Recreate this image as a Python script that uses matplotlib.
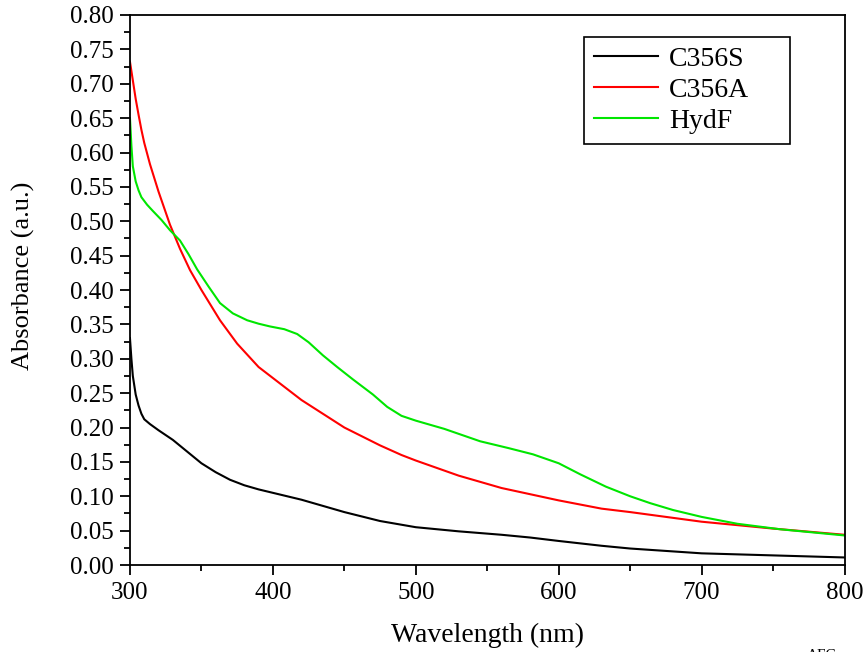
import numpy as np
import matplotlib.pyplot as plt
from matplotlib.ticker import MultipleLocator

plt.rcParams['font.family'] = ['Liberation Serif', 'DejaVu Serif']

# 数据
wl_s = [300, 301, 302, 304, 306, 308, 310, 314, 320, 330, 340, 350, 360, 370, 380,
        390, 400, 420, 450, 475, 500, 530, 560, 580, 600, 630, 650, 700, 750, 800]
c356s = [0.330, 0.300, 0.275, 0.248, 0.232, 0.220, 0.212, 0.205, 0.196, 0.182, 0.165,
         0.148, 0.135, 0.124, 0.116, 0.110, 0.105, 0.095, 0.077, 0.064, 0.055, 0.049,
         0.044, 0.040, 0.035, 0.028, 0.024, 0.017, 0.014, 0.011]

wl_a = [300, 302, 304, 306, 308, 310, 314, 320, 328, 335, 342, 350, 363, 375, 390, 400,
        420, 450, 475, 490, 500, 530, 560, 600, 630, 650, 700, 750, 800]
c356a = [0.732, 0.705, 0.678, 0.655, 0.633, 0.614, 0.583, 0.543, 0.495, 0.460, 0.429,
         0.400, 0.356, 0.322, 0.288, 0.272, 0.240, 0.200, 0.174, 0.160, 0.152, 0.130,
         0.112, 0.094, 0.082, 0.077, 0.063, 0.053, 0.044]

wl_h = [300, 301, 302, 304, 306, 308, 312, 316, 322, 328, 335, 341, 347, 355, 363, 372,
        382, 390, 398, 408, 417, 425, 435, 445, 456, 470, 480, 490, 500, 520, 545, 565,
        582, 600, 615, 633, 650, 664, 680, 700, 725, 755, 780, 800]
hydf = [0.650, 0.610, 0.580, 0.558, 0.545, 0.535, 0.524, 0.515, 0.502, 0.487, 0.472,
        0.452, 0.430, 0.405, 0.381, 0.366, 0.356, 0.351, 0.347, 0.343, 0.336, 0.324,
        0.305, 0.288, 0.270, 0.248, 0.230, 0.217, 0.210, 0.198, 0.180, 0.170, 0.161,
        0.148, 0.132, 0.114, 0.100, 0.090, 0.080, 0.070, 0.060, 0.052, 0.047, 0.043]

fig = plt.figure(figsize=(8.63, 6.52), dpi=100)
ax = fig.add_axes([0.1506, 0.1334, 0.8280, 0.8436])

ax.plot(wl_s, c356s, color='black', lw=1.5, label='C356S')
ax.plot(wl_a, c356a, color='#ff0000', lw=1.5, label='C356A')
ax.plot(wl_h, hydf, color='#00e600', lw=1.5, label='HydF')

ax.set_xlim(300, 800)
ax.set_ylim(0, 0.80)
ax.xaxis.set_major_locator(MultipleLocator(100))
ax.xaxis.set_minor_locator(MultipleLocator(50))
ax.yaxis.set_major_locator(MultipleLocator(0.05))
ax.yaxis.set_minor_locator(MultipleLocator(0.025))
ax.yaxis.set_major_formatter(plt.FormatStrFormatter('%.2f'))

ax.tick_params(which='both', direction='out', width=1.3, labelsize=18,
               top=False, right=False, pad=5)
ax.tick_params(which='major', length=7)
ax.tick_params(which='minor', length=4)
for sp in ax.spines.values():
    sp.set_linewidth(1.3)

ax.set_xlabel('Wavelength (nm)', fontsize=20, labelpad=14)
ax.set_ylabel('Absorbance (a.u.)', fontsize=19)
ax.yaxis.set_label_coords(-0.133, 0.525)

leg = ax.legend(loc='upper left', bbox_to_anchor=(0.636, 0.96, 0.287, 0.0),
                mode='expand', fontsize=20,
                fancybox=False, edgecolor='black', framealpha=1,
                handlelength=2.3, handletextpad=0.4, borderpad=0.35,
                labelspacing=0.2, borderaxespad=0)
leg.get_frame().set_linewidth(1.2)

fig.text(0.935, 0.004, 'AFG', fontsize=11, va='top', ha='left')

plt.savefig('out.png', dpi=100)
